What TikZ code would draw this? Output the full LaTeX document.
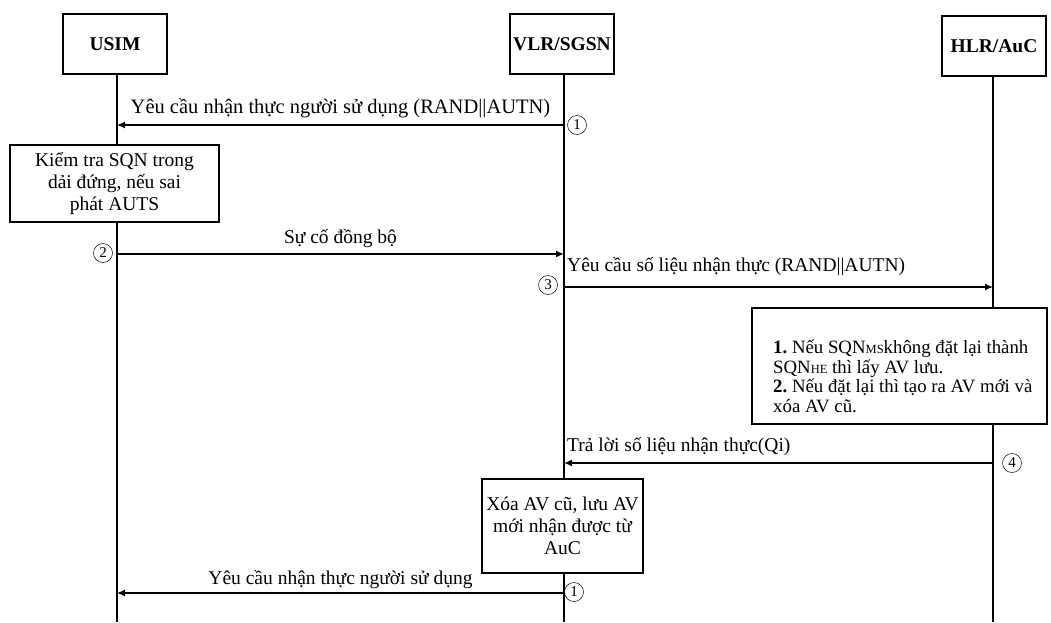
\documentclass[tikz,border=0pt]{standalone}
\usepackage{fontspec}
\setmainfont{Liberation Serif}
\usetikzlibrary{arrows.meta}
\frenchspacing
\begin{document}
\begin{tikzpicture}[x=1pt,y=-1pt,
  entity/.style={draw,line width=1.4pt,fill=white,minimum width=104pt,minimum height=60pt,
    inner sep=2pt,font=\fontsize{19.5}{22}\selectfont\bfseries},
  action/.style={draw,line width=1.4pt,fill=white,inner sep=2pt,align=center,
    font=\fontsize{19.5}{22}\selectfont},
  life/.style={line width=1.4pt},
  msg/.style={line width=1.4pt,-{Latex[length=8pt,width=7pt]}},
  lbl/.style={font=\fontsize{19.5}{22}\selectfont,inner sep=2pt},
  wide/.style={font=\fontsize{20.5}{23}\selectfont,inner sep=2pt},
  num/.style={circle,draw,line width=0.5pt,inner sep=0pt,minimum size=19pt,
    font=\fontsize{15}{15}\selectfont},
  sub/.style={font=\fontsize{12.5}{12}\selectfont}
]
\useasboundingbox (0,0) rectangle (1051,622);

% participants
\node[entity] (usim) at (115,44) {USIM};
\node[entity] (vlr) at (562,44) {VLR/SGSN};
\node[entity] (hlr) at (994,46) {HLR/AuC};

% processing boxes
\node[action,minimum width=209pt,minimum height=77pt] (check) at (114.5,183.5)
  {Kiểm tra SQN trong\\dải đứng, nếu sai\\phát AUTS};
\node[action,minimum width=295pt,minimum height=116pt] (reset) at (899.5,366) {};
\node[anchor=north west,align=left,inner sep=0pt,
  font=\fontsize{18.8}{19.5}\selectfont] (resettxt) at (773,340)
  {\textbf{1.} Nếu SQN{\fontsize{12.5}{12}\selectfont MS}không đặt lại thành\\
   SQN{\fontsize{12.5}{12}\selectfont HE} thì lấy AV lưu.\\
   \textbf{2.} Nếu đặt lại thì tạo ra AV mới và\\
   xóa AV cũ.};
\node[action,minimum width=161pt,minimum height=94pt] (store) at (562.5,526)
  {Xóa AV cũ, lưu AV\\mới nhận được từ\\AuC};

% lifeline ends
\coordinate (uEnd) at (117,622);
\coordinate (vEnd) at (564,622);
\coordinate (hEnd) at (993,622);

% lifelines
\draw[life] (usim.south -| uEnd) -- (check.north -| uEnd);
\draw[life] (check.south -| uEnd) -- (uEnd);
\draw[life] (vlr.south -| vEnd) -- (store.north -| vEnd);
\draw[life] (store.south -| vEnd) -- (vEnd);
\draw[life] (hlr.south -| hEnd) -- (reset.north -| hEnd);
\draw[life] (reset.south -| hEnd) -- (hEnd);

% message end points
\coordinate (u1) at (117,125); \coordinate (v1) at (564,125);
\coordinate (u2) at (117,254); \coordinate (v2) at (564,254);
\coordinate (v3) at (564,287); \coordinate (h3) at (993,287);
\coordinate (h4) at (993,463); \coordinate (v4) at (564,463);
\coordinate (v5) at (564,593); \coordinate (u5) at (117,593);

% messages
\draw[msg] (v1) -- (u1) node[wide,midway,above=4pt] {Yêu cầu nhận thực người sử dụng (RAND||AUTN)};
\draw[msg] (u2) -- (v2) node[lbl,midway,above=4pt] {Sự cố đồng bộ};
\draw[msg] (v3) -- (h3);
\node[lbl,anchor=south west] (l3) at (565,278) {Yêu cầu số liệu nhận thực (RAND||AUTN)};
\draw[msg] (h4) -- (v4);
\node[lbl,anchor=south west] (l4) at (565,458) {Trả lời số liệu nhận thực(Qi)};
\draw[msg] (v5) -- (u5) node[lbl,midway,above=2pt] {Yêu cầu nhận thực người sử dụng};

% step numbers
\node[num] (n1) at (577,125) {1};
\node[num] (n2) at (103,253) {2};
\node[num] (n3) at (548,285) {3};
\node[num] (n4) at (1012,463) {4};
\node[num] (n5) at (574,592) {1};
\end{tikzpicture}
\end{document}
